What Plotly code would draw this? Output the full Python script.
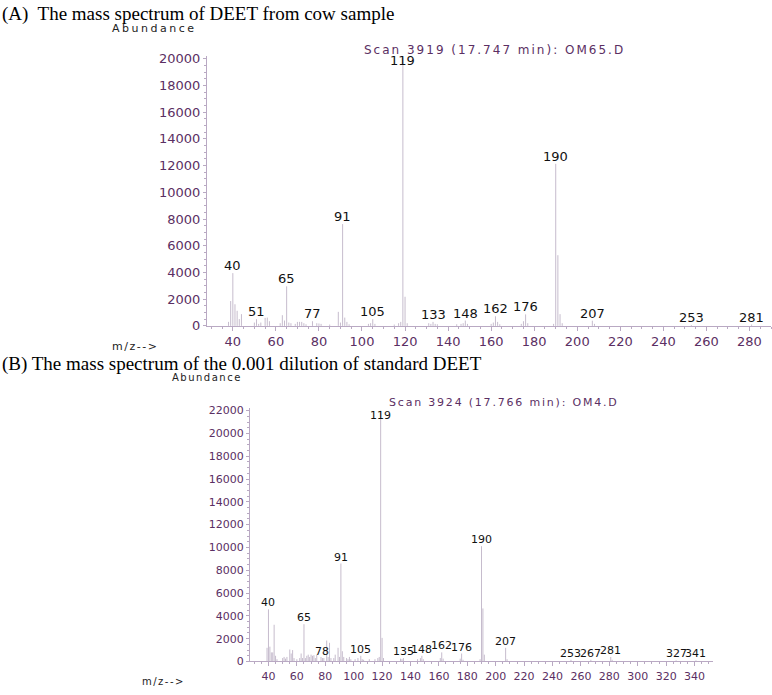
import plotly.graph_objects as go

# ---------------- Data (A) cow sample ----------------
a_mz = [38, 39, 40, 41, 42, 43, 44, 50, 51, 52, 53, 55, 56, 57, 62, 63, 64, 65, 66, 67,
        69, 70, 71, 72, 73, 74, 77, 79, 80, 81, 85, 89, 90, 91, 92, 93, 94, 103, 104, 105,
        106, 115, 117, 118, 119, 120, 121, 131, 132, 133, 134, 135, 144, 146, 147, 148, 149,
        160, 161, 162, 163, 164, 174, 175, 176, 177, 189, 190, 191, 192, 193, 207, 208, 253, 281]
a_ab = [300, 1860, 3950, 1620, 1130, 510, 880, 250, 500, 150, 250, 600, 620, 350, 200, 800, 400, 2960, 250, 200,
        150, 300, 300, 300, 200, 120, 350, 200, 180, 150, 100, 1050, 250, 7620, 620, 300, 120, 150, 200, 500,
        150, 100, 200, 300, 20100, 2180, 200, 200, 150, 300, 150, 120, 120, 150, 200, 400, 150,
        150, 250, 720, 300, 120, 150, 350, 860, 200, 150, 12130, 5290, 880, 200, 390, 150, 60, 100]
a_labels = [40, 51, 65, 77, 91, 105, 119, 133, 148, 162, 176, 190, 207, 253, 281]
a_xticks = [40, 60, 80, 100, 120, 140, 160, 180, 200, 220, 240, 260, 280]
a_yticks = [0, 2000, 4000, 6000, 8000, 10000, 12000, 14000, 16000, 18000, 20000]

# ---------------- Data (B) standard 0.001 dilution ----------------
b_mz = [39, 40, 41, 42, 43, 44, 45, 46, 50, 51, 52, 53, 55, 56, 57, 58, 60, 62, 63, 64,
        65, 66, 67, 68, 69, 70, 71, 72, 73, 74, 77, 78, 79, 81, 82, 83, 84, 86, 87, 89,
        90, 91, 92, 93, 95, 96, 97, 98, 101, 103, 105, 106, 107, 111, 115, 117, 118, 119, 120, 121,
        133, 134, 135, 145, 147, 148, 149, 161, 162, 163, 175, 176, 177, 189, 190, 191, 192,
        207, 208, 253, 267, 281, 282, 327, 341]
b_ab = [1200, 4570, 1300, 800, 800, 3220, 500, 200, 300, 400, 250, 400, 1050, 700, 1000, 300, 200, 300, 700, 300,
        3270, 300, 500, 600, 400, 600, 500, 550, 300, 600, 400, 300, 300, 1840, 400, 1640, 300, 300, 600, 1200,
        400, 8590, 900, 400, 300, 200, 400, 200, 200, 300, 500, 200, 150, 200, 200, 300, 400, 22000, 2070, 300,
        250, 200, 300, 200, 300, 500, 200, 300, 800, 250, 250, 700, 150, 200, 10110, 4650, 600,
        1200, 200, 150, 150, 400, 150, 100, 100]
b_labels = [40, 65, 78, 91, 105, 119, 135, 148, 162, 176, 190, 207, 253, 267, 281, 327, 341]
b_xticks = [40, 60, 80, 100, 120, 140, 160, 180, 200, 220, 240, 260, 280, 300, 320, 340]
b_yticks = [0, 2000, 4000, 6000, 8000, 10000, 12000, 14000, 16000, 18000, 20000, 22000]

W, H = 772, 695
PEAK = "#c6bccd"
AXIS = "#b9a9c3"
TICKTXT = "#5b2f63"
FONT = "DejaVu Sans"
serif = "Liberation Serif"
A_YMAX, B_YMAX = 20200, 22200


def sticks(mz, ab):
    xs, ys = [], []
    for m, a in zip(mz, ab):
        xs += [m, m, None]
        ys += [0, a, None]
    return xs, ys


def spaced(text, px):
    return '<span style="letter-spacing:%spx">%s</span>' % (px, text)


fig = go.Figure()
xa, ya = sticks(a_mz, a_ab)
fig.add_trace(go.Scatter(x=xa, y=ya, mode="lines", line=dict(color=PEAK, width=1),
                         xaxis="x", yaxis="y", hoverinfo="skip", showlegend=False))
xb, yb = sticks(b_mz, b_ab)
fig.add_trace(go.Scatter(x=xb, y=yb, mode="lines", line=dict(color=PEAK, width=1),
                         xaxis="x2", yaxis="y2", hoverinfo="skip", showlegend=False))


def px2py(p):
    return 1 - p / H


def axis_common(size):
    return dict(showgrid=False, zeroline=False, showline=True, linecolor=AXIS, linewidth=1,
                ticks="outside", tickcolor=AXIS, ticklen=4, tickwidth=1,
                tickfont=dict(family=FONT, size=size, color=TICKTXT), fixedrange=True)


def peak_label(m, h, xref, yref, ymax, size, topshift):
    top = h > 0.95 * ymax
    return dict(x=m, y=h, xref=xref, yref=yref, text=str(m), showarrow=False,
                yanchor="top" if top else "bottom", xanchor="center",
                yshift=topshift if top else -2,
                font=dict(family=FONT, size=size, color="#111111"))


annotations = []
a_lookup = dict(zip(a_mz, a_ab))
for m in a_labels:
    annotations.append(peak_label(m, a_lookup[m], "x", "y", A_YMAX, 13, 6))
b_lookup = dict(zip(b_mz, b_ab))
for m in b_labels:
    annotations.append(peak_label(m, b_lookup[m], "x2", "y2", B_YMAX, 11, 4))

annotations += [
    dict(x=0, y=px2py(9), xref="paper", yref="paper", xanchor="left", yanchor="middle",
         text="(A)  The mass spectrum of DEET from cow sample", showarrow=False,
         font=dict(family=serif, size=19, color="#000000")),
    dict(x=110 / W, y=px2py(24), xref="paper", yref="paper", xanchor="left", yanchor="middle",
         text=spaced("Abundance", 2.5), showarrow=False, font=dict(family=FONT, size=11, color="#222222")),
    dict(x=362 / W, y=px2py(46), xref="paper", yref="paper", xanchor="left", yanchor="middle",
         text=spaced("Scan 3919 (17.747 min): OM65.D", 2), showarrow=False,
         font=dict(family=FONT, size=12, color=TICKTXT)),
    dict(x=110 / W, y=px2py(348), xref="paper", yref="paper", xanchor="left", yanchor="middle",
         text=spaced("m/z-->", 1.5), showarrow=False, font=dict(family=FONT, size=11, color="#222222")),
    dict(x=0, y=px2py(366), xref="paper", yref="paper", xanchor="left", yanchor="middle",
         text="(B) The mass spectrum of the 0.001 dilution of standard DEET", showarrow=False,
         font=dict(family=serif, size=19, color="#000000")),
    dict(x=170 / W, y=px2py(380), xref="paper", yref="paper", xanchor="left", yanchor="middle",
         text=spaced("Abundance", 1.5), showarrow=False, font=dict(family=FONT, size=10, color="#222222")),
    dict(x=387 / W, y=px2py(405), xref="paper", yref="paper", xanchor="left", yanchor="middle",
         text=spaced("Scan 3924 (17.766 min): OM4.D", 1.8), showarrow=False,
         font=dict(family=FONT, size=11, color=TICKTXT)),
    dict(x=140 / W, y=px2py(689), xref="paper", yref="paper", xanchor="left", yanchor="middle",
         text=spaced("m/z-->", 1.5), showarrow=False, font=dict(family=FONT, size=10, color="#222222")),
]

xa_cfg = axis_common(13)
xa_cfg.update(domain=[207 / W, 771 / W], range=[28, 290], tickvals=a_xticks,
              ticktext=[str(v) for v in a_xticks], anchor="y",
              minor=dict(dtick=5, tick0=0, ticks="outside", ticklen=2, tickcolor=AXIS))
ya_cfg = axis_common(13)
ya_cfg.update(domain=[px2py(327), px2py(52)], range=[0, A_YMAX], tickvals=a_yticks,
              ticktext=[str(v) for v in a_yticks], anchor="x",
              ticklen=3, minor=dict(dtick=500, tick0=0, ticks="outside", ticklen=2, tickcolor=AXIS))

xb_cfg = axis_common(11)
xb_cfg.update(domain=[250 / W, 713 / W], range=[27, 353], tickvals=b_xticks,
              ticktext=[str(v) for v in b_xticks], anchor="y2",
              minor=dict(dtick=5, tick0=0, ticks="outside", ticklen=2, tickcolor=AXIS))
yb_cfg = axis_common(11)
yb_cfg.update(domain=[px2py(669), px2py(411)], range=[0, B_YMAX], tickvals=b_yticks,
              ticktext=[str(v) for v in b_yticks], anchor="x2",
              ticklen=3, minor=dict(dtick=500, tick0=0, ticks="outside", ticklen=2, tickcolor=AXIS))

fig.update_layout(
    width=W, height=H, autosize=False,
    margin=dict(l=0, r=0, t=0, b=0, pad=0),
    paper_bgcolor="white", plot_bgcolor="white",
    xaxis=xa_cfg, yaxis=ya_cfg, xaxis2=xb_cfg, yaxis2=yb_cfg,
    annotations=annotations, showlegend=False,
)

fig.write_html("out.html", config={"displayModeBar": False},
               post_script="document.body.style.margin='0';document.body.style.overflow='hidden';")
